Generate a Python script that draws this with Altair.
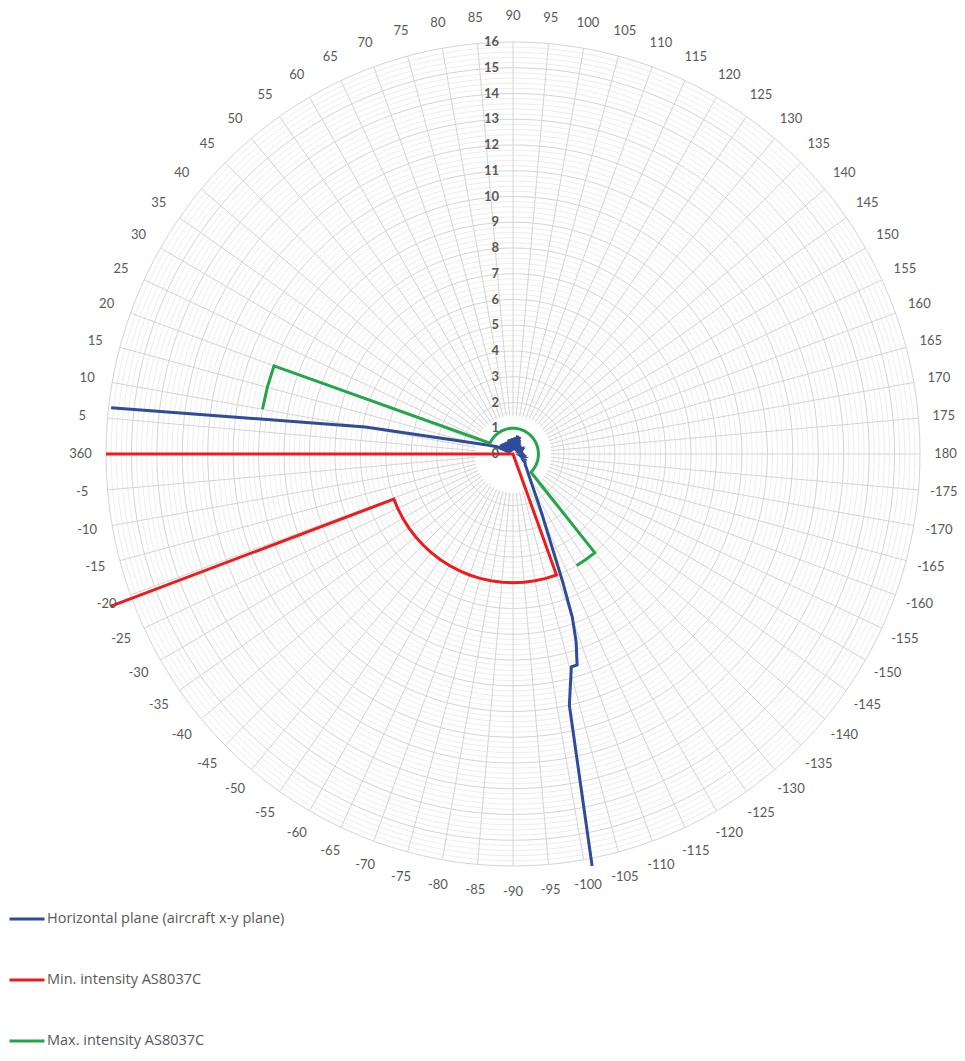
import altair as alt
import pandas as pd

# ---------------- data (angle label in degrees, radius) ----------------
blue_a = [6.5, 10.2, 19, 24, 26, 28, 30, 32, 34, 36, 38, 40, 42, 44, 46, 48, 50, 52, 54, 56, 58,
          60, 62, 64, 66, 68, 70, 72, 74, 76, 78, 80, 82, 84, 86, 88, 90, 92, 94, 96, 98, 100, 102,
          104, 106, 108, 110, 112, 114, 116, 118, 120, 123, 126, 129, 132, 135, 138, 142, 146,
          150, 155, 160, 165, 170, 175, 180, -175, -170, -165, -160, -155, -150, -145, -140,
          -117, -116, -111.5, -110.2, -108.8, -107.1, -105.5, -102.8, -101]
blue_r = [15.9, 5.9, 1.07, 0.69, 0.2, 0.6, 0.15, 0.62, 0.25, 0.58, 0.15, 0.6, 0.2, 0.56, 0.12,
          0.55, 0.2, 0.5, 0.1, 0.55, 0.2, 0.52, 0.1, 0.5, 0.2, 0.55, 0.15, 0.58, 0.2, 0.6, 0.12,
          0.56, 0.2, 0.6, 0.15, 0.62, 0.2, 0.6, 0.25, 0.64, 0.2, 0.66, 0.25, 0.74, 0.2, 0.7, 0.25,
          0.72, 0.2, 0.62, 0.15, 0.55, 0.2, 0.48, 0.15, 0.45, 0.2, 0.38, 0.3, 0.36, 0.28, 0.4,
          0.35, 0.28, 0.4, 0.3, 0.38, 0.42, 0.3, 0.45, 0.38, 0.5, 0.45, 0.58, 0.62,
          2.3, 2.6, 5.3, 6.75, 7.7, 8.57, 8.58, 10.0, 16.3]

red_a = [0, 0, -110, -105, -100, -95, -90, -85, -80, -75, -70, -65, -60, -55, -50, -45, -40, -35,
         -30, -25, -20.5, -20.5]
red_r = [16, 0, 5, 5, 5, 5, 5, 5, 5, 5, 5, 5, 5, 5, 5, 5, 5, 5, 5, 5, 5, 16.9]

green_a = [10, 15, 20, 25, 30, 35, 40, 45, 50, 55, 60, 65, 70, 75, 80, 85, 90, 95, 100, 105, 110,
           115, 120, 125, 130, 135, 140, 145, 150, 155, 160, 165, 170, 175, 180, -175, -170, -165,
           -160, -155, -150, -145, -140, -135, -130, -125, -120]
green_r = [10, 10, 10, 1, 1, 1, 1, 1, 1, 1, 1, 1, 1, 1, 1, 1, 1, 1, 1, 1, 1, 1, 1, 1, 1, 1, 1, 1,
           1, 1, 1, 1, 1, 1, 1, 1, 1, 1, 1, 1, 1, 1, 1, 1, 5, 5, 5]

series_names = ["Horizontal plane (aircraft x-y plane)", "Min. intensity AS8037C",
                "Max. intensity AS8037C"]
series_colors = ["#2F4B9A", "#F01A1A", "#23A64A"]

radial_ticks = list(range(0, 17))
angle_labels = list(range(5, 185, 5)) + list(range(-175, 0, 5)) + [360]

# ---------------- tables ----------------
rows = []
for name, aa, rr in zip(series_names, [blue_a, red_a, green_a], [blue_r, red_r, green_r]):
    for i, (a, r) in enumerate(zip(aa, rr)):
        rows.append({"series": name, "idx": i, "a": a, "r": r})
series_df = pd.DataFrame(rows)

circle_angles = list(range(0, 361, 2))
minor_radii = [round(0.2 * k, 1) for k in range(8, 81) if k % 5 != 0]
major_radii = list(range(2, 17))
minor_df = pd.DataFrame([{"ring": r, "a": a, "r": r} for r in minor_radii for a in circle_angles])
major_df = pd.DataFrame([{"ring": r, "a": a, "r": r} for r in major_radii for a in circle_angles])
spoke_df = pd.DataFrame([{"spoke": a, "a": a, "r": r} for a in angle_labels for r in (1.5, 16)])
rtick_df = pd.DataFrame({"a": [90] * len(radial_ticks), "r": radial_ticks,
                         "label": [str(t) for t in radial_ticks]})
alab_df = pd.DataFrame({"a": angle_labels, "r": [17.0] * len(angle_labels),
                        "label": [str(v) for v in angle_labels]})

# view origin at page (8, 18); polar centre at page (513, 454)
W, H = 949, 1035
kx, ky = 407 / 16, 412 / 16
cx, cy = 505, 436
xs = alt.Scale(domain=[-cx / kx, (W - cx) / kx], nice=False, zero=False)
ys = alt.Scale(domain=[(cy - H) / ky, cy / ky], nice=False, zero=False)


def polar(ch):
    return ch.transform_calculate(
        th="(180 - datum.a) * PI / 180"
    ).transform_calculate(
        px="datum.r * cos(datum.th)", py="datum.r * sin(datum.th)"
    )


X = alt.X("px:Q", scale=xs, axis=None)
Y = alt.Y("py:Q", scale=ys, axis=None)
font = "Lato"

minor = polar(alt.Chart(minor_df).mark_line(stroke="#E9E9E9", strokeWidth=0.8)).encode(
    x=X, y=Y, detail="ring:N", order="a:Q")
major = polar(alt.Chart(major_df).mark_line(stroke="#D4D4D4", strokeWidth=1)).encode(
    x=X, y=Y, detail="ring:N", order="a:Q")
spokes = polar(alt.Chart(spoke_df).mark_line(stroke="#D4D4D4", strokeWidth=1)).encode(
    x=X, y=Y, detail="spoke:N", order="r:Q")

lines = polar(alt.Chart(series_df).mark_line(strokeWidth=3, strokeJoin="miter")).encode(
    x=X, y=Y,
    color=alt.Color("series:N", sort=series_names,
                    scale=alt.Scale(domain=series_names, range=series_colors),
                    legend=alt.Legend(title=None, orient="none", legendX=0, legendY=882,
                                      direction="vertical", symbolType="stroke",
                                      symbolSize=1225, symbolStrokeWidth=3,
                                      labelFontSize=14.5, labelColor="#595959",
                                      labelFont="Open Sans",
                                      labelLimit=600, rowPadding=35, labelOffset=1)),
    order="idx:Q")

rtext = polar(alt.Chart(rtick_df).mark_text(align="right", baseline="middle", dx=-14,
                                            fontSize=13, color="#595959", font=font,
                                            fontWeight="bold")).encode(
    x=X, y=Y, text="label:N")
atext = polar(alt.Chart(alab_df).mark_text(align="center", baseline="middle",
                                           fontSize=13, color="#595959", font=font)).encode(
    x=X, y=Y, text="label:N")

chart = alt.layer(minor, major, spokes, lines, rtext, atext).properties(
    width=W, height=H, autosize=alt.AutoSizeParams(type="none"),
    padding={"left": 0, "top": 10, "right": 0, "bottom": 0}
).configure_view(stroke=None)

chart.save("out.html", embed_options={"renderer": "svg", "actions": False})
